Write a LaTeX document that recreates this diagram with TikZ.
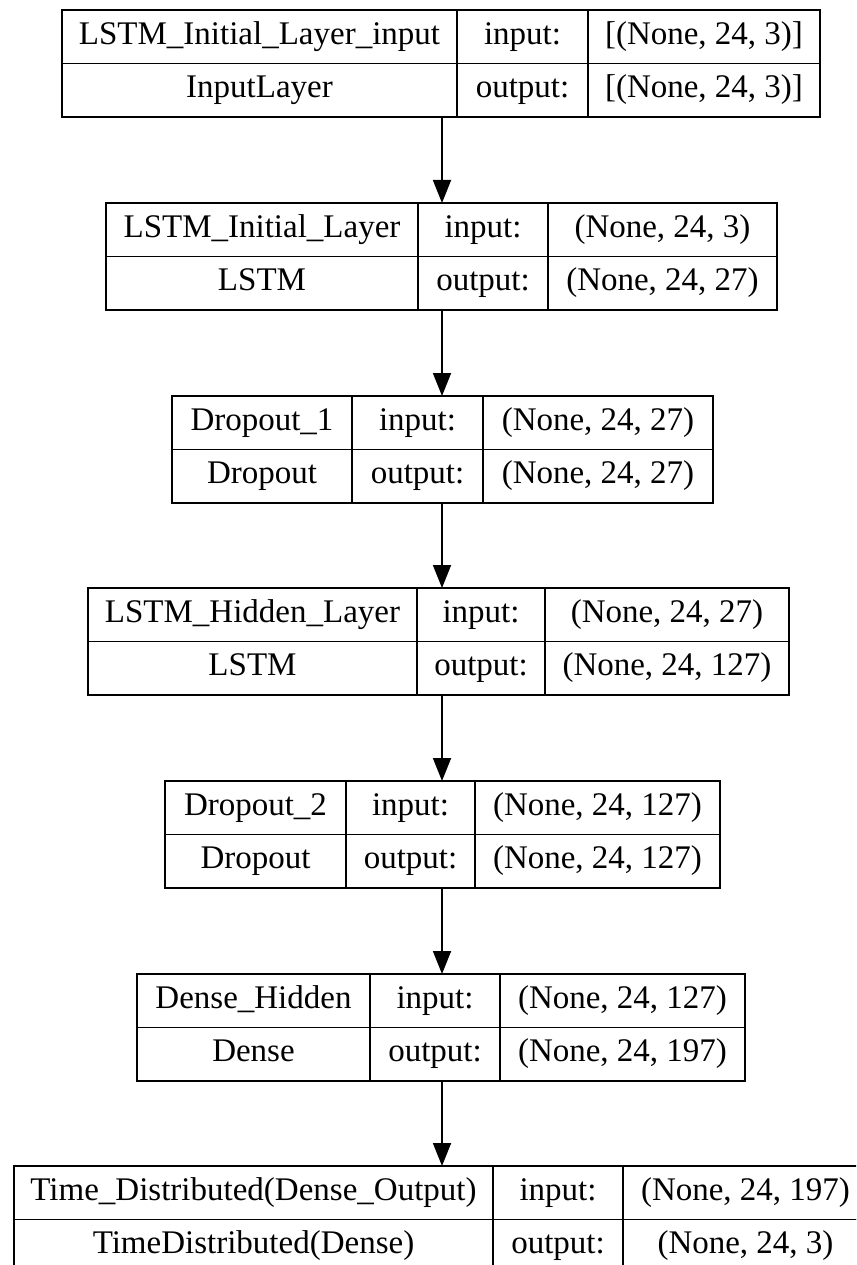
\documentclass[tikz,border=0pt]{standalone}
\usepackage{fontspec}
\setmainfont{Liberation Serif}
\usetikzlibrary{arrows.meta,fit}

\tikzset{
  x=1pt, y=-1pt,
  cell/.style={draw, line width=1.8pt, minimum width=#1, minimum height=53.5pt,
    inner sep=0pt, outer sep=0pt, anchor=north west,
    font=\fontsize{33}{40}\selectfont, text height=22pt, text depth=7pt},
  frame/.style={inner sep=0pt, outer sep=0pt},
  flow/.style={line width=1.8pt, -{Triangle[length=23pt,width=18pt]}}
}

% shapes shown in the right-hand column of the next layer box
\newcommand\shapes[2]{\def\shapein{#1}\def\shapeout{#2}}

% one layer record: name, left, top, three column widths, layer name, layer type
\newcommand\layerbox[8]{%
  \node[cell=#4pt] (#1-n) at (#2,#3) {#7};
  \node[cell=#4pt] (#1-t) at (#1-n.south west) {#8};
  \node[cell=#5pt] (#1-ik) at (#1-n.north east) {input:};
  \node[cell=#5pt] (#1-ok) at (#1-t.north east) {output:};
  \node[cell=#6pt] (#1-iv) at (#1-ik.north east) {\shapein};
  \node[cell=#6pt] (#1-ov) at (#1-ok.north east) {\shapeout};
  \node[frame, fit=(#1-n)(#1-ov)] (#1) {};
}

\begin{document}
\begin{tikzpicture}
\useasboundingbox (0,0) rectangle (856,1265);
\fill[white] (0,0) rectangle (856,1265);
\clip (0,0) rectangle (856,1265);

\coordinate (axis) at (442,0);

\shapes{[(None, 24, 3)]}{[(None, 24, 3)]}
\layerbox{b1}{62}{10}{395}{131}{232}{LSTM\_Initial\_Layer\_input}{InputLayer}

\shapes{(None, 24, 3)}{(None, 24, 27)}
\layerbox{b2}{106}{203}{312}{130}{229}{LSTM\_Initial\_Layer}{LSTM}

\shapes{(None, 24, 27)}{(None, 24, 27)}
\layerbox{b3}{172}{396}{180}{131}{230}{Dropout\_1}{Dropout}

\shapes{(None, 24, 27)}{(None, 24, 127)}
\layerbox{b4}{88}{588}{329}{128}{244}{LSTM\_Hidden\_Layer}{LSTM}

\shapes{(None, 24, 127)}{(None, 24, 127)}
\layerbox{b5}{165}{781}{181}{129}{245}{Dropout\_2}{Dropout}

\shapes{(None, 24, 127)}{(None, 24, 197)}
\layerbox{b6}{137}{974}{233}{130}{245}{Dense\_Hidden}{Dense}

\shapes{(None, 24, 197)}{(None, 24, 3)}
\layerbox{b7}{14}{1166}{479}{130}{245}{Time\_Distributed(Dense\_Output)}{TimeDistributed(Dense)}

\foreach \a/\b in {b1/b2, b2/b3, b3/b4, b4/b5, b5/b6, b6/b7}
  \draw[flow] (\a.south -| axis) -- (\b.north -| axis);
\end{tikzpicture}
\end{document}
